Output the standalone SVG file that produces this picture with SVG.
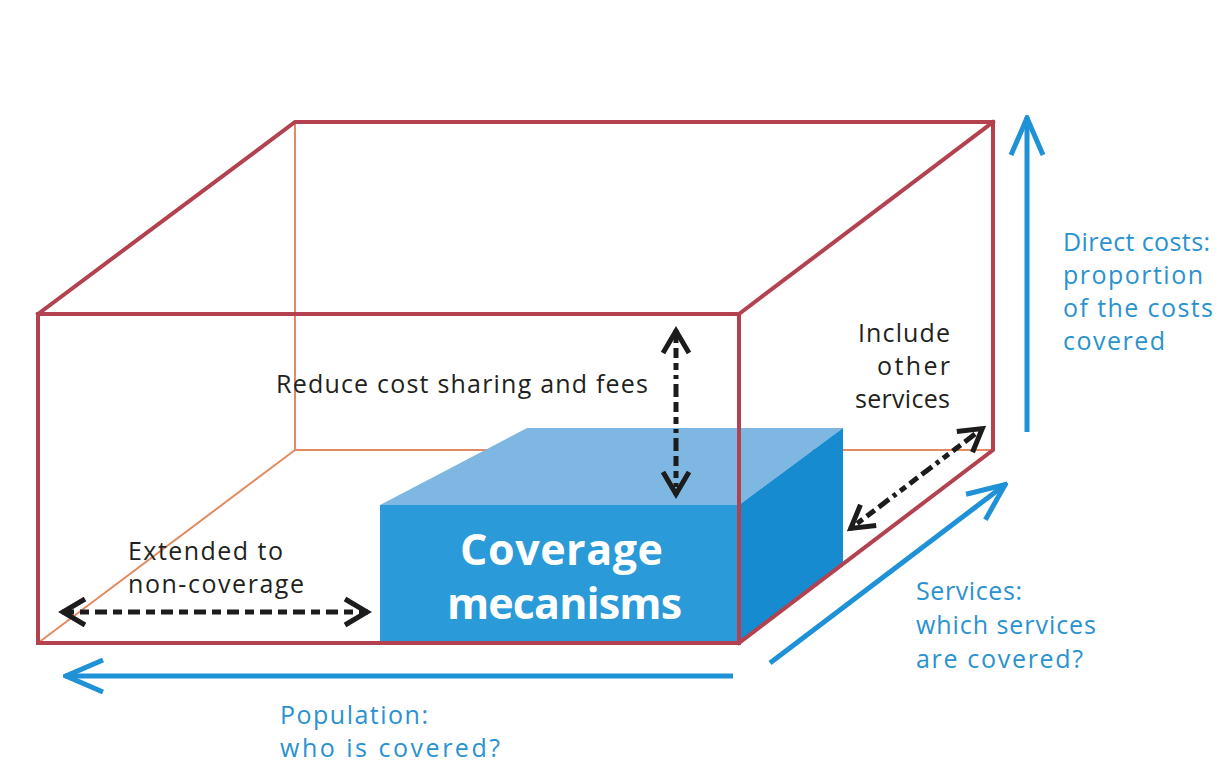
<svg xmlns="http://www.w3.org/2000/svg" width="1225" height="775" viewBox="0 0 1225 775">
  <style>
    .edge { fill: none; stroke: #b3414f; stroke-width: 4; stroke-linejoin: miter; stroke-linecap: square; }
    .hidden { fill: none; stroke: #e38a62; stroke-width: 2; }
    .axis { fill: none; stroke: #1f91d6; stroke-width: 5; }
    .dash { fill: none; stroke: #1c1c1c; stroke-width: 5; }
    .lbl { font-family: "Open Sans", "Liberation Sans", sans-serif; font-size: 25px; fill: #231f20; }
    .blue { font-family: "Open Sans", "Liberation Sans", sans-serif; font-size: 25px; fill: #2a92cf; }
    .big { font-family: "Open Sans", "Liberation Sans", sans-serif; font-size: 43px; font-weight: bold; fill: #ffffff; }
  </style>
  <defs>
    <marker id="blk" viewBox="0 0 32 34" refX="28" refY="17" markerWidth="32" markerHeight="34" markerUnits="userSpaceOnUse" orient="auto-start-reverse">
      <path d="M5,4 L27,17 L5,30" fill="none" stroke="#1c1c1c" stroke-width="5" stroke-linejoin="miter"/>
    </marker>
    <marker id="blu" viewBox="0 0 44 38" refX="42" refY="19" markerWidth="44" markerHeight="38" markerUnits="userSpaceOnUse" orient="auto">
      <path d="M4,3 L41,19 L4,35" fill="none" stroke="#1f91d6" stroke-width="5" stroke-linejoin="miter"/>
    </marker>
  </defs>

  <rect width="1225" height="775" fill="#ffffff"/>

  <!-- hidden back edges of the frame -->
  <g id="frame-back">
    <line class="hidden" x1="295" y1="122" x2="295" y2="450"/>
    <line class="hidden" x1="295" y1="450" x2="993" y2="450"/>
    <line class="hidden" x1="295" y1="450" x2="38" y2="643"/>
  </g>

  <!-- solid block -->
  <g id="coverage-block">
    <polygon points="380,505 527,428 843,428 739,505" fill="#7db7e2"/>
    <polygon points="739,505 843,428 843,563 739,643" fill="#168bd0"/>
    <rect x="380" y="505" width="359" height="138" fill="#2a9ad8"/>
    <text class="big" x="460" y="565" textLength="203">Coverage</text>
    <text class="big" x="447" y="619" textLength="235">mecanisms</text>
  </g>

  <!-- visible edges of the frame -->
  <g id="frame">
    <polyline class="edge" points="38,314 295,122 993,122 993,450 739,643"/>
    <line class="edge" x1="739" y1="314" x2="993" y2="122"/>
    <rect class="edge" x="38" y="314" width="701" height="329"/>
  </g>

  <!-- connectors -->
  <g id="connectors">
    <line class="dash" x1="676" y1="330" x2="676" y2="495" stroke-dasharray="13 5 10 5 7 5 4 5" marker-start="url(#blk)" marker-end="url(#blk)"/>
    <line class="dash" x1="62" y1="612" x2="368" y2="612" stroke-dasharray="12 6 9 6" marker-start="url(#blk)" marker-end="url(#blk)"/>
    <line class="dash" x1="850" y1="529" x2="983" y2="428" stroke-dasharray="4 5 7 5 10 5 13 5" marker-start="url(#blk)" marker-end="url(#blk)"/>
    <line class="axis" x1="1027" y1="432" x2="1027" y2="117" marker-end="url(#blu)"/>
    <line class="axis" x1="733" y1="676" x2="65" y2="676" marker-end="url(#blu)"/>
    <line class="axis" x1="770" y1="663" x2="1006" y2="484" marker-end="url(#blu)"/>
  </g>

  <g id="label-reduce">
    <text class="lbl" x="276" y="393" textLength="372">Reduce cost sharing and fees</text>
  </g>
  <g id="label-include">
    <text class="lbl" x="858" y="342" textLength="92">Include</text>
    <text class="lbl" x="877" y="375" textLength="73">other</text>
    <text class="lbl" x="855" y="408" textLength="95">services</text>
  </g>
  <g id="label-extended">
    <text class="lbl" x="128" y="560" textLength="155">Extended to</text>
    <text class="lbl" x="128" y="593" textLength="176">non-coverage</text>
  </g>
  <g id="label-direct">
    <text class="blue" x="1063" y="251" textLength="147">Direct costs:</text>
    <text class="blue" x="1063" y="284" textLength="140">proportion</text>
    <text class="blue" x="1063" y="317" textLength="150">of the costs</text>
    <text class="blue" x="1063" y="350" textLength="102">covered</text>
  </g>
  <g id="label-services">
    <text class="blue" x="916" y="600" textLength="106">Services:</text>
    <text class="blue" x="916" y="634" textLength="180">which services</text>
    <text class="blue" x="916" y="668" textLength="167">are covered?</text>
  </g>
  <g id="label-population">
    <text class="blue" x="280" y="724" textLength="148">Population:</text>
    <text class="blue" x="280" y="757" textLength="220">who is covered?</text>
  </g>
</svg>
